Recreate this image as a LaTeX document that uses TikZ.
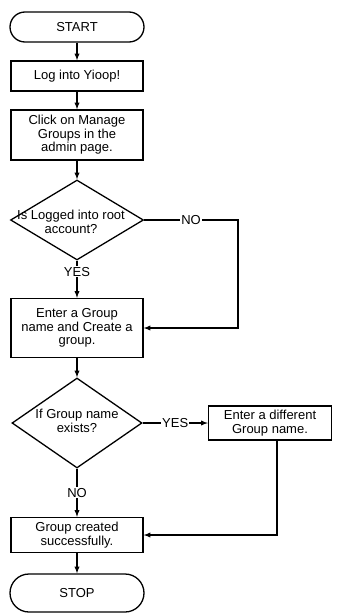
\documentclass[tikz,border=0pt]{standalone}
\usepackage{fontspec}
\setmainfont{Liberation Sans}
\usepackage{tikz}
\usetikzlibrary{arrows,shapes.geometric}

\begin{document}
\begin{tikzpicture}[x=1pt,y=-1pt,font=\fontsize{13}{13.5}\selectfont]
%\tikzstyle{every node} = [font=\small]
\tikzstyle{terminal} = [draw, line width=1.3pt, rounded corners=15pt, minimum width=134pt, minimum height=30pt]
\tikzstyle{process} = [draw, line width=1.3pt, align=center, minimum width=132pt, inner sep=2pt]
\tikzstyle{decision} = [draw, line width=1.3pt, diamond, inner sep=0pt]
\tikzstyle{connector} = [line width=1.3pt, -latex]
\tikzstyle{answer} = [fill=white, inner sep=1pt]
\useasboundingbox (0,0) rectangle (338,613);

\node[terminal] (start) at (77,27) {START};
\node[process, minimum height=30pt] (login) at (77,76) {Log into Yioop!};
\node[process, minimum height=50pt] (manage) at (77,135) {Click on Manage\\Groups in the\\admin page.};
\node[decision, minimum width=133pt, minimum height=80pt] (root) at (77,220) {};
\node[align=center] (roottext) at (71,222) {Is Logged into root\\account?};
\node[process, minimum height=59pt] (enter) at (77,328) {Enter a Group\\name and Create a\\group.};
\node[decision, minimum width=130pt, minimum height=90pt] (exists) at (77,423) {};
\node[align=center] (existstext) at (77,421) {If Group name\\exists?};
\node[process, minimum width=123pt, minimum height=34pt] (diff) at (270,423) {Enter a different\\Group name.};
\node[process, minimum height=35pt] (done) at (77,535) {Group created\\successfully.};
\node[terminal, minimum height=38pt, rounded corners=19pt] (stop) at (77,593) {STOP};

\coordinate (nocorner) at (238,220);

\draw[connector] (start) -- (login);
\draw[connector] (login) -- (manage);
\draw[connector] (manage) -- (root);
\draw[connector] (root.east) -- node[answer]{NO} (nocorner) |- (enter.east);
\draw[connector] (root.south) -- node[answer, pos=0.3]{YES} (enter.north);
\draw[connector] (enter) -- (exists);
\draw[connector] (exists.east) -- node[answer]{YES} (diff.west);
\draw[connector] ([xshift=7pt]diff.south) |- (done.east);
\draw[connector] (exists.south) -- node[answer]{NO} (done.north);
\draw[connector] (done) -- (stop);
\end{tikzpicture}
\end{document}
